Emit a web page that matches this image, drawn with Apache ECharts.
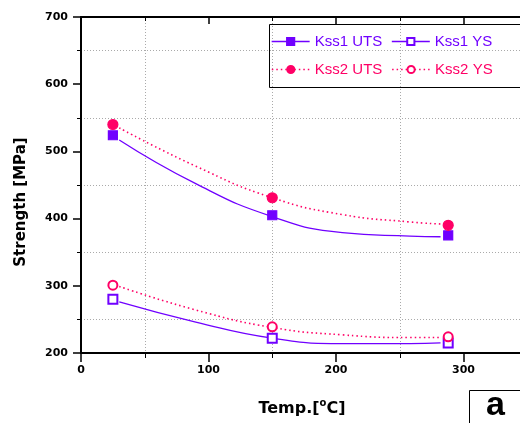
<!DOCTYPE html>
<html>
<head>
<meta charset="utf-8">
<script src="https://cdn.jsdelivr.net/npm/echarts@6/dist/echarts.min.js"></script>
<style>
html, body { margin: 0; padding: 0; background: #fff; }
#main { width: 520px; height: 423px; }
</style>
</head>
<body>
<div id="main"></div>
<script>
// measured points
var temps = [25, 150, 288];
var kss1Uts = [524, 405, 375];
var kss2Uts = [540, 431, 390];
var kss1Ys = [280, 222, 215];
var kss2Ys = [301, 239, 224];

// fitted curves
var fitTemps = [30, 90, 150, 205, 258, 282];
var kss1UtsFit = [517, 452, 403, 379, 374, 373];
var kss2UtsFit = [535, 478, 431, 406, 395, 392];
var kss1YsFit = [276, 246, 222, 214, 214, 215];
var kss2YsFit = [299, 264, 238, 227, 223, 223];

var yTicks = [200, 300, 400, 500, 600, 700];
var xTicks = [0, 100, 200, 300];

var purple = '#7000ff';
var pink = '#ff0066';
var tickFont = 'DejaVu Sans';

function pairs(xs, ys) {
    return xs.map(function (x, i) { return [x, ys[i]]; });
}

function fitSeries(name, ys, color, type) {
    return {
        name: name,
        type: 'line',
        data: pairs(fitTemps, ys),
        smooth: 0.5,
        symbol: 'none',
        silent: true,
        lineStyle: { color: color, width: type == 'solid' ? 1.3 : 1.6, type: type },
        z: 2
    };
}

function markSeries(name, ys, color, symbol, size) {
    return {
        name: name,
        type: 'line',
        data: pairs(temps, ys),
        symbol: symbol,
        symbolSize: size,
        showSymbol: true,
        itemStyle: { color: color, borderColor: color, borderWidth: 1.2 },
        lineStyle: { opacity: 0, color: color },
        z: 5
    };
}

function legendItem(name, color, type) {
    return {
        name: name,
        textStyle: { color: color },
        lineStyle: { color: color, width: type == 'solid' ? 1.3 : 1.6, type: type, opacity: 1 }
    };
}

var legendBase = {
    left: 271,
    itemWidth: 38,
    itemHeight: 9,
    itemGap: 9,
    padding: 0,
    selectedMode: false,
    textStyle: { fontFamily: 'Liberation Sans', fontSize: 15 }
};

var chart = echarts.init(document.getElementById('main'));

var option = {
    animation: false,
    backgroundColor: '#fff',
    grid: { left: 81, top: 17, width: 510, height: 336, outerBoundsMode: 'none', containLabel: false },
    legend: [
        Object.assign({}, legendBase, {
            top: 34,
            data: [legendItem('Kss1 UTS', purple, 'solid'), legendItem('Kss1 YS', purple, 'solid')]
        }),
        Object.assign({}, legendBase, {
            top: 62,
            data: [legendItem('Kss2 UTS', pink, [1.5, 3]), legendItem('Kss2 YS', pink, [1.5, 3])]
        })
    ],
    xAxis: [
        {
            type: 'value', min: 0, max: 400, interval: 100, position: 'bottom',
            axisLine: { show: true, lineStyle: { color: '#000', width: 2 } },
            axisTick: { show: true, length: 9, lineStyle: { color: '#000', width: 1.5 } },
            minorTick: { show: true, splitNumber: 2, length: 5, lineStyle: { color: '#000', width: 1 } },
            splitLine: { show: false },
            minorSplitLine: { show: true, lineStyle: { color: '#aaa', type: [1, 2], width: 1 } },
            axisLabel: {
                margin: 12, color: '#000', fontFamily: tickFont, fontWeight: 'bold', fontSize: 11,
                formatter: function (v) { return xTicks.indexOf(v) >= 0 ? String(v) : ''; }
            },
            name: 'Temp.[{sup|o}C]',
            nameLocation: 'middle',
            nameGap: 45,
            nameTextStyle: {
                color: '#000', fontFamily: tickFont, fontWeight: 'bold', fontSize: 16,
                padding: [0, 68, 0, 0],
                rich: { sup: { fontSize: 10, fontWeight: 'bold', fontFamily: tickFont, padding: [0, 0, 11, 0] } }
            }
        },
        {
            type: 'value', min: 0, max: 400, interval: 100, position: 'top',
            axisLine: { show: true, lineStyle: { color: '#000', width: 2 } },
            axisTick: { show: true, inside: true, length: 7, lineStyle: { color: '#000', width: 1.5 } },
            minorTick: { show: true, splitNumber: 2, length: 4, lineStyle: { color: '#000', width: 1 } },
            splitLine: { show: false },
            axisLabel: { show: false }
        }
    ],
    yAxis: {
        type: 'value', min: 200, max: 700, interval: 100,
        axisLine: { show: true, lineStyle: { color: '#000', width: 2 } },
        axisTick: { show: true, length: 8, lineStyle: { color: '#000', width: 1.5 } },
        minorTick: { show: true, splitNumber: 2, length: 4, lineStyle: { color: '#000', width: 1 } },
        splitLine: { show: false },
        minorSplitLine: { show: true, lineStyle: { color: '#aaa', type: [1, 2], width: 1 } },
        axisLabel: {
            margin: 13, color: '#000', fontFamily: tickFont, fontWeight: 'bold', fontSize: 11,
            formatter: function (v) { return yTicks.indexOf(v) >= 0 ? String(v) : ''; }
        },
        name: 'Strength [MPa]',
        nameLocation: 'middle',
        nameGap: 52,
        nameTextStyle: {
            color: '#000', fontFamily: tickFont, fontWeight: 'bold', fontSize: 15,
            padding: [0, 34, 0, 0]
        }
    },
    graphic: [
        {
            type: 'rect', left: 269, top: 24, z: 0,
            shape: { width: 260, height: 63 },
            style: { fill: '#fff', stroke: '#000', lineWidth: 1 }
        },
        {
            type: 'rect', left: 469, top: 390, z: 10,
            shape: { width: 60, height: 40 },
            style: { fill: '#fff', stroke: '#000', lineWidth: 1 }
        },
        {
            type: 'text', left: 486, top: 389, z: 11,
            style: { text: 'a', font: 'bold 34px "Liberation Sans"', fill: '#000' }
        }
    ],
    series: [
        fitSeries('Kss1 UTS fit', kss1UtsFit, purple, 'solid'),
        fitSeries('Kss1 YS fit', kss1YsFit, purple, 'solid'),
        fitSeries('Kss2 UTS fit', kss2UtsFit, pink, [1.5, 3]),
        fitSeries('Kss2 YS fit', kss2YsFit, pink, [1.5, 3]),
        markSeries('Kss1 UTS', kss1Uts, purple, 'rect', 9),
        markSeries('Kss1 YS', kss1Ys, purple, 'emptyRect', 9),
        markSeries('Kss2 UTS', kss2Uts, pink, 'circle', 10),
        markSeries('Kss2 YS', kss2Ys, pink, 'emptyCircle', 9)
    ]
};

chart.setOption(option);
</script>
</body>
</html>
